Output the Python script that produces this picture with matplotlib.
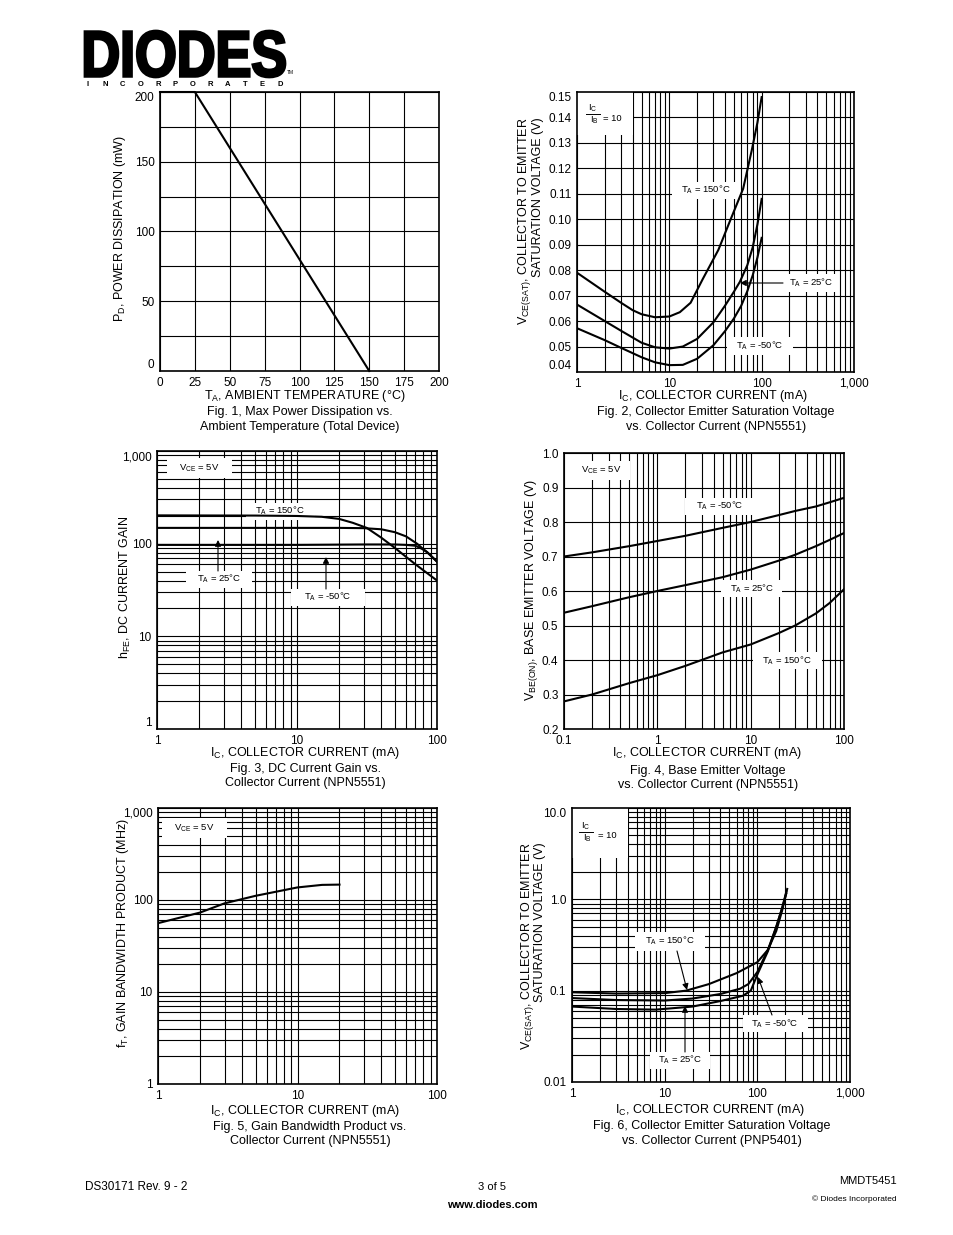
import numpy as np
import matplotlib
matplotlib.use('Agg')
import matplotlib.pyplot as plt
from matplotlib.ticker import FixedLocator, NullFormatter, LogLocator, FixedFormatter, MultipleLocator
from matplotlib.textpath import TextPath
from matplotlib.patches import PathPatch, Rectangle
from matplotlib.lines import Line2D
from matplotlib.font_manager import FontProperties
from matplotlib.transforms import Affine2D

# ---------------- data ----------------
# Fig 1
f1_temp = [0, 25, 150]
f1_pd = [200, 200, 0]

# Fig 2 (NPN5551 VCE(sat))
f2_ic_150 = [1, 2, 3, 4, 5, 7, 10, 13, 17, 23, 34, 45, 63, 78, 90, 100]
f2_v_150 = [0.079, 0.0715, 0.0672, 0.0643, 0.0627, 0.0615, 0.0618, 0.0635, 0.0672, 0.0765,
            0.088, 0.099, 0.112, 0.127, 0.138, 0.148]
f2_ic_25 = [1, 2, 3, 5, 7, 10, 14, 20, 30, 40, 50, 58, 70, 80, 90, 100]
f2_v_25 = [0.0665, 0.060, 0.0562, 0.0515, 0.0497, 0.0492, 0.0500, 0.0530, 0.0595, 0.066,
           0.0715, 0.0754, 0.082, 0.089, 0.098, 0.108]
f2_ic_m50 = [1, 2, 3, 5, 7, 10, 14, 20, 30, 40, 50, 60, 70, 80, 90, 100]
f2_v_m50 = [0.0572, 0.0525, 0.0495, 0.0458, 0.0438, 0.0427, 0.0428, 0.0452, 0.0505, 0.056,
            0.061, 0.066, 0.0718, 0.078, 0.085, 0.0927]

# Fig 3 (hFE)
f3_ic_150 = [1, 5, 10, 15, 20, 25, 31.5, 40, 50, 70, 100]
f3_h_150 = [202, 201, 199, 195, 185, 168, 148, 116, 90, 60, 40]
f3_ic_25 = [1, 10, 20, 30, 40, 50, 60, 72, 78, 85, 100]
f3_h_25 = [148, 148, 148, 147, 143, 133, 120, 100, 90, 81, 64]
f3_ic_m50 = [1, 10, 30, 50, 60, 70, 78, 85, 100]
f3_h_m50 = [97, 97, 98, 98, 97, 95, 88, 81, 64]

# Fig 4 (VBE(on))
f4_ic = [0.1, 0.2, 0.5, 1, 2, 5, 10, 20, 30, 50, 70, 100]
f4_v_m50 = [0.70, 0.712, 0.73, 0.745, 0.76, 0.783, 0.80, 0.82, 0.832, 0.845, 0.857, 0.870]
f4_v_25 = [0.537, 0.556, 0.582, 0.60, 0.617, 0.64, 0.662, 0.688, 0.705, 0.73, 0.748, 0.768]
f4_v_150 = [0.28, 0.30, 0.333, 0.356, 0.383, 0.422, 0.445, 0.478, 0.50, 0.535, 0.565, 0.605]

# Fig 5 (fT)
f5_ic = [1, 2, 3, 5, 10, 15, 20]
f5_ft = [56, 73, 92, 111, 137, 146, 147]

# Fig 6 (PNP5401 VCE(sat))
f6_ic_150 = [1, 3, 10, 17, 30, 60, 100, 130, 160, 185, 210]
f6_v_150 = [0.096, 0.093, 0.094, 0.100, 0.118, 0.156, 0.205, 0.28, 0.45, 0.75, 1.3]
f6_ic_25 = [1, 3, 10, 20, 40, 65, 80, 100, 130, 160, 185, 205]
f6_v_25 = [0.083, 0.079, 0.078, 0.082, 0.092, 0.105, 0.118, 0.16, 0.28, 0.5, 0.8, 1.2]
f6_ic_m50 = [1, 3, 8, 20, 40, 70, 85, 100, 130, 160, 185, 205]
f6_v_m50 = [0.067, 0.063, 0.062, 0.067, 0.077, 0.088, 0.100, 0.15, 0.27, 0.5, 0.8, 1.15]

# ---------------- style ----------------
W, H = 954, 1235
plt.rcParams['font.family'] = ['Liberation Sans', 'DejaVu Sans']
plt.rcParams['mathtext.fontset'] = 'custom'
plt.rcParams['mathtext.rm'] = 'Liberation Sans'
plt.rcParams['mathtext.it'] = 'Liberation Sans:italic'
plt.rcParams['mathtext.bf'] = 'Liberation Sans:bold'

fig = plt.figure(figsize=(W / 100, H / 100), dpi=100)
fig.patch.set_facecolor('white')

LW = 1.5
TFS = 8.5
LFS = 9.0
AFS = 6.8


def make_ax(rect):
    l, t, r, b = rect
    ax = fig.add_axes([l / W, 1 - b / H, (r - l) / W, (b - t) / H])
    ax.set_axisbelow(True)
    for s in ax.spines.values():
        s.set_linewidth(1.2)
        s.set_zorder(5)
    ax.tick_params(which='both', length=0, labelsize=TFS, pad=4)
    ax.grid(True, which='both', color='black', lw=0.8)
    return ax


def edge_va(ax, top=True, bottom=True):
    ticks = ax.yaxis.get_major_ticks()
    if bottom:
        ticks[0].label1.set_verticalalignment('bottom')
    if top:
        ticks[-1].label1.set_verticalalignment('top')


def ftext(x, y, s, **kw):
    return fig.text(x / W, 1 - y / H, s, **kw)


def conv(rect):
    l, t, r, b = rect
    return (lambda x: (x - l) / (r - l)), (lambda y: (b - y) / (b - t))


def label_box(ax, rect, box, text, center, fs=AFS):
    fx, fy = conv(rect)
    x0, y0, x1, y1 = box
    ax.add_artist(Rectangle((fx(x0), fy(y1)), fx(x1) - fx(x0), fy(y0) - fy(y1),
                            transform=ax.transAxes, facecolor='white', edgecolor='none',
                            zorder=2, clip_on=True))
    if text:
        ax.text(fx(center[0]), fy(center[1]), text, transform=ax.transAxes, ha='center',
                va='center', fontsize=fs, zorder=3)


def frac_label(ax, rect, ic_xy, line_x, line_y, ib_xy, eq_xy):
    fx, fy = conv(rect)
    ax.text(fx(ic_xy[0]), fy(ic_xy[1]), r'I$_\mathregular{C}$', transform=ax.transAxes,
            ha='center', va='center', fontsize=AFS, zorder=3)
    ax.text(fx(ib_xy[0]), fy(ib_xy[1]), r'I$_\mathregular{B}$', transform=ax.transAxes,
            ha='center', va='center', fontsize=AFS, zorder=3)
    ax.text(fx(eq_xy[0]), fy(eq_xy[1]), '= 10', transform=ax.transAxes,
            ha='center', va='center', fontsize=AFS, zorder=3)
    ax.add_artist(Line2D([fx(line_x[0]), fx(line_x[1])], [fy(line_y), fy(line_y)],
                         transform=ax.transAxes, color='black', lw=0.7, zorder=3))


def arrow(ax, rect, start, tip):
    fx, fy = conv(rect)
    ax.annotate('', xy=(fx(tip[0]), fy(tip[1])), xytext=(fx(start[0]), fy(start[1])),
                xycoords='axes fraction', textcoords='axes fraction',
                arrowprops=dict(arrowstyle='-|>', color='black', lw=0.8,
                                mutation_scale=9, shrinkA=0, shrinkB=0), zorder=6)


def log_fmt(v, p):
    if v >= 1:
        return f'{v:,.0f}'
    return f'{v:g}'


TA = lambda t: r'T$_\mathregular{A}$ = ' + t
VCE = r'V$_\mathregular{CE}$ = 5V'
ICX = r'I$_\mathregular{C}$, COLLECTOR CURRENT (mA)'

# ---------------- Fig 1 ----------------
r1 = (160, 92, 439, 371)
ax1 = make_ax(r1)
ax1.plot(f1_temp, f1_pd, color='black', lw=LW, zorder=4, clip_on=False)
ax1.set_xlim(0, 200)
ax1.set_ylim(0, 200)
ax1.xaxis.set_major_locator(MultipleLocator(25))
ax1.yaxis.set_major_locator(FixedLocator([0, 50, 100, 150, 200]))
ax1.yaxis.set_minor_locator(MultipleLocator(25))
edge_va(ax1)
ftext(120, 228, r'P$_\mathregular{D}$, POWER DISSIPATION (mW)', rotation=90, ha='center', va='center', fontsize=LFS)
ftext(305, 396, r'T$_\mathregular{A}$, AMBIENT TEMPERATURE (°C)', ha='center', va='center', fontsize=LFS)
ftext(300, 412, 'Fig. 1, Max Power Dissipation vs.', ha='center', va='center', fontsize=LFS)
ftext(300, 427, 'Ambient Temperature (Total Device)', ha='center', va='center', fontsize=LFS)

# ---------------- Fig 2 ----------------
r2 = (577, 92, 854, 372)
ax2 = make_ax(r2)
ax2.set_xscale('log')
ax2.plot(f2_ic_150, f2_v_150, color='black', lw=LW, zorder=4)
ax2.plot(f2_ic_25, f2_v_25, color='black', lw=LW, zorder=4)
ax2.plot(f2_ic_m50, f2_v_m50, color='black', lw=LW, zorder=4)
ax2.set_xlim(1, 1000)
ax2.set_ylim(0.04, 0.15)
ax2.xaxis.set_major_locator(FixedLocator([1, 10, 100, 1000]))
ax2.xaxis.set_major_formatter(plt.FuncFormatter(log_fmt))
ax2.xaxis.set_minor_locator(LogLocator(base=10, subs=np.arange(2, 10)))
ax2.xaxis.set_minor_formatter(NullFormatter())
ax2.yaxis.set_major_locator(FixedLocator(np.round(np.arange(0.04, 0.1501, 0.01), 2)))
ax2.yaxis.set_major_formatter(plt.FuncFormatter(lambda v, p: f'{v:.2f}'))
edge_va(ax2)
label_box(ax2, r2, (577, 92, 633, 135), None, None)
frac_label(ax2, r2, (593, 108.5), (586, 600), 114, (594, 120.5), (612, 118.5))
label_box(ax2, r2, (672, 182, 740, 199), TA('150°C'), (706, 190))
label_box(ax2, r2, (783, 274, 837, 292), TA('25°C'), (811, 283))
label_box(ax2, r2, (727, 337, 793, 355), TA('-50°C'), (760, 346))
arrow(ax2, r2, (783, 283), (740, 283))
ftext(525, 117, r'V$_\mathregular{CE(SAT)}$, COLLECTOR TO EMITTER', rotation=90, ha='center', va='top', fontsize=LFS)
ftext(538, 117, 'SATURATION VOLTAGE (V)', rotation=90, ha='center', va='top', fontsize=LFS)
ftext(713, 396, ICX, ha='center', va='center', fontsize=LFS)
ftext(716, 412, 'Fig. 2, Collector Emitter Saturation Voltage', ha='center', va='center', fontsize=LFS)
ftext(716, 427, 'vs. Collector Current (NPN5551)', ha='center', va='center', fontsize=LFS)

# ---------------- Fig 3 ----------------
r3 = (157, 451, 437, 729)
ax3 = make_ax(r3)
ax3.set_xscale('log')
ax3.set_yscale('log')
ax3.plot(f3_ic_150, f3_h_150, color='black', lw=LW, zorder=4)
ax3.plot(f3_ic_25, f3_h_25, color='black', lw=LW, zorder=4)
ax3.plot(f3_ic_m50, f3_h_m50, color='black', lw=LW, zorder=4)
ax3.set_xlim(1, 100)
ax3.set_ylim(1, 1000)
for axis, ticks in ((ax3.xaxis, [1, 10, 100]), (ax3.yaxis, [1, 10, 100, 1000])):
    axis.set_major_locator(FixedLocator(ticks))
    axis.set_major_formatter(plt.FuncFormatter(log_fmt))
    axis.set_minor_locator(LogLocator(base=10, subs=np.arange(2, 10)))
    axis.set_minor_formatter(NullFormatter())
edge_va(ax3)
label_box(ax3, r3, (167, 458, 232, 478), VCE, (199, 468))
label_box(ax3, r3, (246, 503, 315, 520), TA('150°C'), (280, 511))
label_box(ax3, r3, (186, 571, 252, 588), TA('25°C'), (219, 579))
label_box(ax3, r3, (291, 589, 365, 606), TA('-50°C'), (328, 597))
arrow(ax3, r3, (218, 571), (218, 540))
arrow(ax3, r3, (326, 589), (326, 557))
ftext(125, 587, r'h$_\mathregular{FE}$, DC CURRENT GAIN', rotation=90, ha='center', va='center', fontsize=LFS)
ftext(305, 753, ICX, ha='center', va='center', fontsize=LFS)
ftext(305, 769, 'Fig. 3, DC Current Gain vs.', ha='center', va='center', fontsize=LFS)
ftext(305, 783, 'Collector Current (NPN5551)', ha='center', va='center', fontsize=LFS)

# ---------------- Fig 4 ----------------
r4 = (564, 453, 844, 729)
ax4 = make_ax(r4)
ax4.set_xscale('log')
ax4.plot(f4_ic, f4_v_m50, color='black', lw=LW, zorder=4)
ax4.plot(f4_ic, f4_v_25, color='black', lw=LW, zorder=4)
ax4.plot(f4_ic, f4_v_150, color='black', lw=LW, zorder=4)
ax4.set_xlim(0.1, 100)
ax4.set_ylim(0.2, 1.0)
ax4.xaxis.set_major_locator(FixedLocator([0.1, 1, 10, 100]))
ax4.xaxis.set_major_formatter(plt.FuncFormatter(log_fmt))
ax4.xaxis.set_minor_locator(LogLocator(base=10, subs=np.arange(2, 10)))
ax4.xaxis.set_minor_formatter(NullFormatter())
ax4.yaxis.set_major_locator(FixedLocator(np.round(np.arange(0.2, 1.001, 0.1), 1)))
ax4.yaxis.set_major_formatter(plt.FuncFormatter(lambda v, p: f'{v:.1f}'))
label_box(ax4, r4, (574, 461, 630, 480), VCE, (601, 470))
label_box(ax4, r4, (685, 498, 754, 515), TA('-50°C'), (720, 506))
label_box(ax4, r4, (721, 580, 782, 597), TA('25°C'), (752, 589))
label_box(ax4, r4, (753, 652, 822, 669), TA('150°C'), (787, 661))
ftext(532, 590, r'V$_\mathregular{BE(ON)}$, BASE EMITTER VOLTAGE (V)', rotation=90, ha='center', va='center', fontsize=LFS)
ftext(707, 753, ICX, ha='center', va='center', fontsize=LFS)
ftext(708, 771, 'Fig. 4, Base Emitter Voltage', ha='center', va='center', fontsize=LFS)
ftext(708, 785, 'vs. Collector Current (NPN5551)', ha='center', va='center', fontsize=LFS)

# ---------------- Fig 5 ----------------
r5 = (158, 808, 437, 1084)
ax5 = make_ax(r5)
ax5.set_xscale('log')
ax5.set_yscale('log')
ax5.plot(f5_ic, f5_ft, color='black', lw=LW, zorder=4)
ax5.set_xlim(1, 100)
ax5.set_ylim(1, 1000)
for axis, ticks in ((ax5.xaxis, [1, 10, 100]), (ax5.yaxis, [1, 10, 100, 1000])):
    axis.set_major_locator(FixedLocator(ticks))
    axis.set_major_formatter(plt.FuncFormatter(log_fmt))
    axis.set_minor_locator(LogLocator(base=10, subs=np.arange(2, 10)))
    axis.set_minor_formatter(NullFormatter())
edge_va(ax5, bottom=False)
label_box(ax5, r5, (162, 818, 227, 838), VCE, (194, 828))
ftext(123, 933, r'f$_\mathregular{T}$, GAIN BANDWIDTH PRODUCT (MHz)', rotation=90, ha='center', va='center', fontsize=LFS)
ftext(305, 1111, ICX, ha='center', va='center', fontsize=LFS)
ftext(310, 1127, 'Fig. 5, Gain Bandwidth Product vs.', ha='center', va='center', fontsize=LFS)
ftext(310, 1141, 'Collector Current (NPN5551)', ha='center', va='center', fontsize=LFS)

# ---------------- Fig 6 ----------------
r6 = (572, 808, 850, 1082)
ax6 = make_ax(r6)
ax6.set_xscale('log')
ax6.set_yscale('log')
ax6.plot(f6_ic_150, f6_v_150, color='black', lw=LW, zorder=4)
ax6.plot(f6_ic_25, f6_v_25, color='black', lw=LW, zorder=4)
ax6.plot(f6_ic_m50, f6_v_m50, color='black', lw=LW, zorder=4)
ax6.set_xlim(1, 1000)
ax6.set_ylim(0.01, 10)
ax6.xaxis.set_major_locator(FixedLocator([1, 10, 100, 1000]))
ax6.xaxis.set_major_formatter(plt.FuncFormatter(log_fmt))
ax6.yaxis.set_major_locator(FixedLocator([0.01, 0.1, 1, 10]))
ax6.yaxis.set_major_formatter(FixedFormatter(['0.01', '0.1', '1.0', '10.0']))
for axis in (ax6.xaxis, ax6.yaxis):
    axis.set_minor_locator(LogLocator(base=10, subs=np.arange(2, 10)))
    axis.set_minor_formatter(NullFormatter())
edge_va(ax6, bottom=False)
label_box(ax6, r6, (572, 808, 628, 858), None, None)
frac_label(ax6, r6, (586, 826), (579, 593), 832, (587, 838.5), (607, 835))
label_box(ax6, r6, (635, 932, 705, 951), TA('150°C'), (670, 941))
label_box(ax6, r6, (650, 1052, 710, 1069), TA('25°C'), (680, 1060))
label_box(ax6, r6, (743, 1015, 808, 1032), TA('-50°C'), (775, 1024))
arrow(ax6, r6, (677, 951), (687, 990))
arrow(ax6, r6, (685, 1052), (685, 1006))
arrow(ax6, r6, (772, 1015), (758, 977))
ftext(527, 842, r'V$_\mathregular{CE(SAT)}$, COLLECTOR TO EMITTER', rotation=90, ha='center', va='top', fontsize=LFS)
ftext(540, 842, 'SATURATION VOLTAGE (V)', rotation=90, ha='center', va='top', fontsize=LFS)
ftext(710, 1110, ICX, ha='center', va='center', fontsize=LFS)
ftext(712, 1126, 'Fig. 6, Collector Emitter Saturation Voltage', ha='center', va='center', fontsize=LFS)
ftext(712, 1141, 'vs. Collector Current (PNP5401)', ha='center', va='center', fontsize=LFS)

# ---------------- Logo ----------------
tp = TextPath((0, 0), 'DIODES', size=100, prop=FontProperties(family='Liberation Sans', weight='bold'))
ext = tp.get_extents()
x0, y0, x1, y1 = 85, 31, 285, 77
trf = Affine2D().translate(-ext.x0, -ext.y0).scale((x1 - x0) / ext.width, (y1 - y0) / ext.height).translate(x0, H - y1)
fig.add_artist(PathPatch(tp, transform=trf, facecolor='black', edgecolor='black', lw=2.0))
letters = 'INCORPORATED'
for i, ch in enumerate(letters):
    ftext(88 + i * (192 / 11), 85, ch, ha='center', va='center', fontsize=5.5, fontweight='bold')
ftext(290, 72, 'TM', ha='center', va='center', fontsize=3.5)

# ---------------- Footer ----------------
ftext(85, 1187, 'DS30171 Rev. 9 - 2', ha='left', va='center', fontsize=8.5)
ftext(492, 1187, '3 of 5', ha='center', va='center', fontsize=8)
ftext(492, 1205, 'www.diodes.com', ha='center', va='center', fontsize=8, fontweight='bold')
ftext(897, 1181, 'MMDT5451', ha='right', va='center', fontsize=8)
ftext(897, 1199, '© Diodes Incorporated', ha='right', va='center', fontsize=6)

fig.savefig('out.png', dpi=100, facecolor='white')
